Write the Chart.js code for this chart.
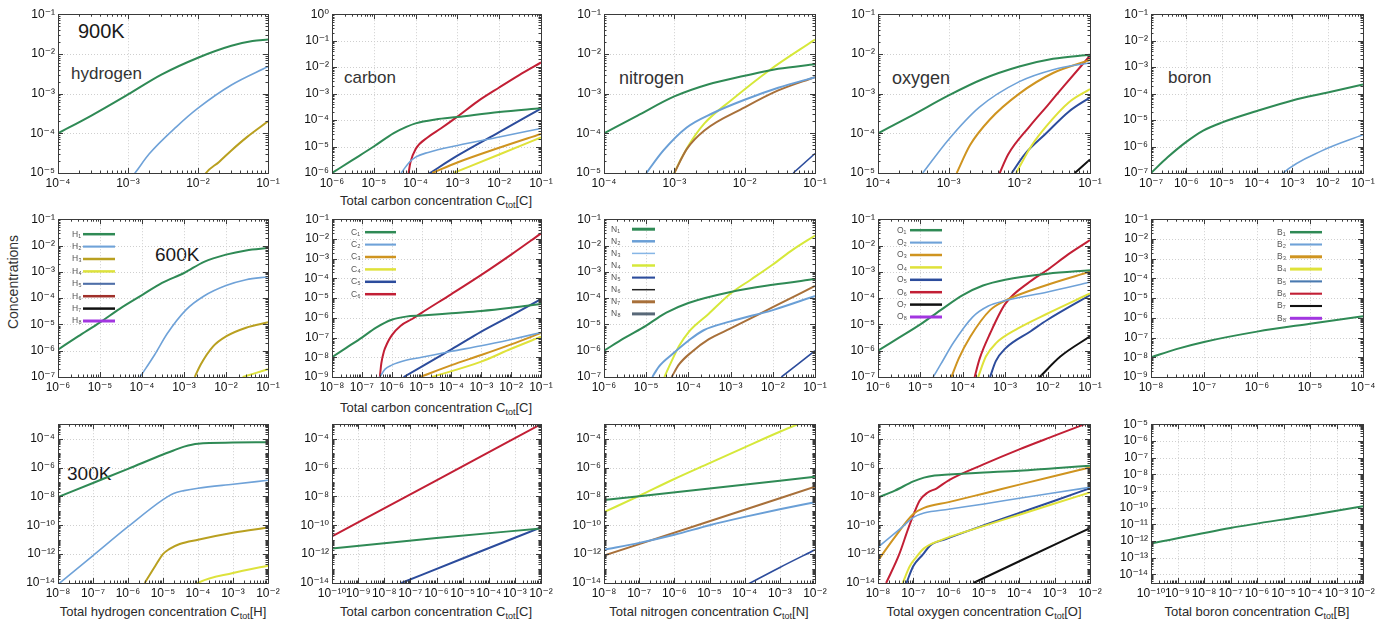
<!DOCTYPE html>
<html>
<head>
<meta charset="utf-8">
<script src="https://cdn.jsdelivr.net/npm/chart.js@4.4.0/dist/chart.umd.min.js"></script>
<style>
  body { margin: 0; background: #fff; width: 1391px; height: 626px; overflow: hidden; position: relative;
         font-family: "Liberation Sans", Arial, "DejaVu Sans", sans-serif; }
  canvas { position: absolute; }
  .lbl { position: absolute; white-space: nowrap; color: #1a1a1a; line-height: 1; }
  .axt { position: absolute; white-space: nowrap; color: #2a2a2a; font-size: 13px; line-height: 1;
         transform: translateX(-50%); }
  .axt sub { font-size: 9px; vertical-align: -3px; line-height: 0; }
</style>
</head>
<body>
<div class="lbl" style="left:78px;top:21px;font-size:20px">900K</div>
<div class="lbl" style="left:71px;top:65px;font-size:17px;color:#333">hydrogen</div>
<div class="lbl" style="left:344px;top:69px;font-size:17px;color:#333">carbon</div>
<div class="lbl" style="left:619px;top:69px;font-size:18px;color:#333">nitrogen</div>
<div class="lbl" style="left:892px;top:69px;font-size:18px;color:#333">oxygen</div>
<div class="lbl" style="left:1168px;top:69px;font-size:17px;color:#333">boron</div>
<div class="lbl" style="left:155px;top:245px;font-size:19px">600K</div>
<div class="lbl" style="left:67px;top:464px;font-size:19px">300K</div>
<div class="lbl" style="left:13px;top:282px;font-size:14px;color:#333;transform:translate(-50%,-50%) rotate(-90deg)">Concentrations</div>

<div class="axt" style="left:436px;top:194px">Total carbon concentration C<sub>tot</sub>[C]</div>
<div class="axt" style="left:436px;top:401px">Total carbon concentration C<sub>tot</sub>[C]</div>
<div class="axt" style="left:163px;top:605px">Total hydrogen concentration C<sub>tot</sub>[H]</div>
<div class="axt" style="left:436px;top:605px">Total carbon concentration C<sub>tot</sub>[C]</div>
<div class="axt" style="left:709px;top:605px">Total nitrogen concentration C<sub>tot</sub>[N]</div>
<div class="axt" style="left:984px;top:605px">Total oxygen concentration C<sub>tot</sub>[O]</div>
<div class="axt" style="left:1257px;top:605px">Total boron concentration C<sub>tot</sub>[B]</div>

<script>
// ---- species names (legend categories) ----
const hydrogenNames = ['H₁', 'H₂', 'H₃', 'H₄', 'H₅', 'H₆', 'H₇', 'H₈'];
const carbonNames   = ['C₁', 'C₂', 'C₃', 'C₄', 'C₅', 'C₆'];
const nitrogenNames = ['N₁', 'N₂', 'N₃', 'N₄', 'N₅', 'N₆', 'N₇', 'N₈'];
const oxygenNames   = ['O₁', 'O₂', 'O₃', 'O₄', 'O₅', 'O₆', 'O₇', 'O₈'];
const boronNames    = ['B₁', 'B₂', 'B₃', 'B₄', 'B₅', 'B₆', 'B₇', 'B₈'];

// ---- tick values (labels are 10^n) ----
const ticks4to1  = [1e-4, 1e-3, 1e-2, 1e-1];
const ticks5to1  = [1e-5, 1e-4, 1e-3, 1e-2, 1e-1];
const ticks6to0  = [1e-6, 1e-5, 1e-4, 1e-3, 1e-2, 1e-1, 1];
const ticks6to1  = [1e-6, 1e-5, 1e-4, 1e-3, 1e-2, 1e-1];
const ticks7to1  = [1e-7, 1e-6, 1e-5, 1e-4, 1e-3, 1e-2, 1e-1];
const ticks8to1  = [1e-8, 1e-7, 1e-6, 1e-5, 1e-4, 1e-3, 1e-2, 1e-1];
const ticks9to1  = [1e-9, 1e-8, 1e-7, 1e-6, 1e-5, 1e-4, 1e-3, 1e-2, 1e-1];
const ticks8to4  = [1e-8, 1e-7, 1e-6, 1e-5, 1e-4];
const ticks8to2  = [1e-8, 1e-7, 1e-6, 1e-5, 1e-4, 1e-3, 1e-2];
const ticks10to2 = [1e-10, 1e-9, 1e-8, 1e-7, 1e-6, 1e-5, 1e-4, 1e-3, 1e-2];
const ticks14to4even = [1e-14, 1e-12, 1e-10, 1e-8, 1e-6, 1e-4];
const ticks14to5 = [1e-14, 1e-13, 1e-12, 1e-11, 1e-10, 1e-9, 1e-8, 1e-7, 1e-6, 1e-5];

// ---- 900 K : [C_tot, concentration] ----
const H900_1 = [[1e-4,1e-4],[3e-4,2.8e-4],[1e-3,9.5e-4],[3e-3,3e-3],[1e-2,8e-3],[3e-2,1.6e-2],[6e-2,2.1e-2],[1e-1,2.3e-2]];
const H900_2 = [[1e-3,6e-6],[1.26e-3,1e-5],[2e-3,3e-5],[5e-3,1.5e-4],[1e-2,4.3e-4],[3e-2,1.65e-3],[1e-1,4.8e-3]];
const H900_3 = [[1.1e-2,6e-6],[1.3e-2,1e-5],[2e-2,1.9e-5],[3e-2,3.7e-5],[5e-2,8e-5],[1e-1,2e-4]];

const C900_1 = [[1e-6,1e-6],[3e-6,3e-6],[1e-5,1e-5],[3e-5,3.2e-5],[6e-5,5.5e-5],[1e-4,7.5e-5],[3e-4,1.05e-4],[1e-3,1.3e-4],[1e-2,2e-4],[1e-1,2.8e-4]];
const C900_2 = [[4.5e-5,1e-6],[7e-5,2.5e-6],[1e-4,4e-6],[2e-4,6e-6],[1e-3,1.1e-5],[1e-2,2.3e-5],[1e-1,4.8e-5]];
const C900_3 = [[2.5e-4,1e-6],[1e-3,2.5e-6],[1e-2,9e-6],[1e-1,3e-5]];
const C900_4 = [[8e-4,1e-6],[1e-2,5e-6],[1e-1,2.2e-5]];
const C900_5 = [[2e-4,9e-7],[1e-3,4.5e-6],[1e-2,3.5e-5],[1e-1,2.7e-4]];
const C900_6 = [[6.8e-5,1e-6],[7.5e-5,2.5e-6],[1e-4,8e-6],[2e-4,2.3e-5],[4e-4,4.8e-5],[1e-3,1.35e-4],[3e-3,5e-4],[1e-2,1.7e-3],[3e-2,5e-3],[1e-1,1.5e-2]];

const N900_1 = [[1e-4,1e-4],[3e-4,2.8e-4],[1e-3,8.5e-4],[3e-3,1.7e-3],[1e-2,2.8e-3],[3e-2,4.2e-3],[1e-1,5.5e-3]];
const N900_2 = [[4e-4,1e-5],[7e-4,3.7e-5],[1.5e-3,1.4e-4],[3.5e-3,3.2e-4],[1e-2,7e-4],[3e-2,1.4e-3],[1e-1,2.6e-3]];
const N900_4 = [[9e-4,6e-6],[1e-3,1e-5],[1.57e-3,4.7e-5],[2.7e-3,1.8e-4],[6.5e-3,6.9e-4],[2.3e-2,4e-3],[1e-1,2.3e-2]];
const N900_5 = [[4.9e-2,1e-5],[1e-1,3.1e-5]];
const N900_7 = [[1e-3,1e-5],[1.5e-3,4e-5],[2.7e-3,1.2e-4],[1e-2,4.5e-4],[3e-2,1.2e-3],[1e-1,2.6e-3]];

const O900_1 = [[1e-4,1e-4],[3e-4,2.8e-4],[1e-3,9e-4],[3e-3,2.3e-3],[1e-2,4.8e-3],[3e-2,7.5e-3],[1e-1,9.5e-3]];
const O900_2 = [[4.3e-4,1e-5],[1e-3,7e-5],[2.7e-3,4.5e-4],[1e-2,2e-3],[3e-2,4e-3],[1e-1,6e-3]];
const O900_3 = [[1.3e-3,1e-5],[2e-3,5e-5],[3.8e-3,2.2e-4],[1e-2,1e-3],[3e-2,3.3e-3],[1e-1,7e-3]];
const O900_4 = [[9e-3,1e-5],[1.5e-2,5e-5],[2.4e-2,1.5e-4],[5e-2,6e-4],[1e-1,1.3e-3]];
const O900_5 = [[7.8e-3,1e-5],[1.2e-2,3e-5],[2.4e-2,1e-4],[5e-2,3.5e-4],[1e-1,8e-4]];
const O900_6 = [[5e-3,8e-6],[7e-3,3e-5],[1.4e-2,1.5e-4],[2.5e-2,5e-4],[4.2e-2,1.5e-3],[1e-1,9e-3]];
const O900_7 = [[6.1e-2,1e-5],[1e-1,2.2e-5]];

const B900_1 = [[1e-7,1e-7],[3e-7,4e-7],[1e-6,1.5e-6],[3e-6,4e-6],[1e-5,8e-6],[1e-4,2.2e-5],[1e-3,5.5e-5],[1e-2,1.1e-4],[1e-1,2.2e-4]];
const B900_2 = [[4e-4,6e-8],[5.5e-4,1e-7],[7e-3,7e-7],[1e-1,2.8e-6]];

// ---- 600 K ----
const H600_1 = [[1e-6,1.1e-6],[3e-6,3.5e-6],[1e-5,1.2e-5],[3e-5,4e-5],[1e-4,1.3e-4],[3e-4,3.8e-4],[1e-3,9e-4],[3e-3,2.4e-3],[1e-2,4.5e-3],[3e-2,6.5e-3],[1e-1,8e-3]];
const H600_2 = [[9e-5,1e-7],[2e-4,7e-7],[4e-4,4.5e-6],[1.1e-3,3.5e-5],[3e-3,1.2e-4],[1e-2,3e-4],[3e-2,5e-4],[1e-1,6.5e-4]];
const H600_3 = [[1.8e-3,1e-7],[2.5e-3,3e-7],[5e-3,1.5e-6],[1e-2,3.5e-6],[3e-2,7.5e-6],[1e-1,1.2e-5]];
const H600_4 = [[2.5e-2,1e-7],[5e-2,1.4e-7],[1e-1,2e-7]];

const C600_1 = [[1e-8,1e-8],[3e-8,3e-8],[1e-7,1e-7],[3e-7,3.2e-7],[1e-6,8e-7],[3e-6,1.15e-6],[1e-5,1.3e-6],[1e-4,1.7e-6],[1e-3,2.2e-6],[1e-2,3.2e-6],[1e-1,5e-6]];
const C600_2 = [[4e-7,1e-9],[6e-7,2.5e-9],[1e-6,4e-9],[3e-6,7e-9],[1e-5,1e-8],[1e-4,2e-8],[1e-3,3.8e-8],[1e-2,8e-8],[1e-1,1.8e-7]];
const C600_3 = [[9e-6,1e-9],[1e-4,4e-9],[1e-3,1.3e-8],[1e-2,4.5e-8],[1e-1,1.7e-7]];
const C600_4 = [[2.2e-5,1e-9],[1e-3,6e-9],[1e-2,2.7e-8],[1e-1,1.1e-7]];
const C600_5 = [[2.5e-6,1e-9],[1e-4,2.5e-8],[1e-3,2e-7],[1e-2,1.3e-6],[1e-1,9e-6]];
const C600_6 = [[4e-7,1e-9],[4.5e-7,5e-9],[5.5e-7,2e-8],[7e-7,5e-8],[1e-6,1.3e-7],[2e-6,4e-7],[5e-6,9e-7],[1e-5,1.8e-6],[1e-4,1.6e-5],[1e-3,1.5e-4],[1e-2,1.6e-3],[1e-1,1.9e-2]];

const N600_1 = [[1e-6,1e-6],[3e-6,3e-6],[1e-5,9e-6],[2e-5,1.9e-5],[3e-5,2.8e-5],[1e-4,6.5e-5],[1e-3,1.7e-4],[1e-2,3.2e-4],[1e-1,5.3e-4]];
const N600_2 = [[1.4e-5,1e-7],[2e-5,2.5e-7],[4.4e-5,8e-7],[1e-4,2.4e-6],[2.3e-4,6e-6],[1e-3,1.3e-5],[1e-2,3.5e-5],[1e-1,1.2e-4]];
const N600_4 = [[2.7e-5,1e-7],[4e-5,4e-7],[6e-5,1.5e-6],[1e-4,5e-6],[3e-4,2.5e-5],[1e-3,1.5e-4],[3e-3,5e-4],[1e-2,1.9e-3],[3e-2,7e-3],[1e-1,2.4e-2]];
const N600_5 = [[1.6e-2,1e-7],[1e-1,1e-6]];
const N600_7 = [[4e-5,1e-7],[6e-5,3e-7],[1.2e-4,9e-7],[3e-4,2.7e-6],[1e-3,7e-6],[1e-2,4.5e-5],[1e-1,2.9e-4]];

const O600_1 = [[1e-6,1e-6],[3e-6,3e-6],[1e-5,1e-5],[3e-5,3.5e-5],[1e-4,1.3e-4],[3e-4,3e-4],[1e-3,5e-4],[1e-2,8.5e-4],[1e-1,1.15e-3]];
const O600_2 = [[2e-5,1e-7],[3e-5,3e-7],[6e-5,2e-6],[1.7e-4,1.9e-5],[4e-4,5e-5],[1e-3,8e-5],[1e-2,1.7e-4],[1e-1,4e-4]];
const O600_3 = [[5.4e-5,1e-7],[8e-5,5e-7],[1.5e-4,3.4e-6],[4.4e-4,3.5e-5],[1e-3,8e-5],[1e-2,3.2e-4],[1e-1,1e-3]];
const O600_4 = [[2.3e-4,1e-7],[3.5e-4,6e-7],[6e-4,1.9e-6],[2e-3,7e-6],[1e-2,2.6e-5],[1e-1,1.5e-4]];
const O600_5 = [[4.4e-4,1e-7],[6e-4,4e-7],[1e-3,1.2e-6],[4e-3,5.5e-6],[1e-2,1.5e-5],[1e-1,1.3e-4]];
const O600_6 = [[1.9e-4,1e-7],[2.5e-4,5e-7],[4.4e-4,4.5e-6],[1e-3,6e-5],[3.8e-3,4.2e-4],[1e-2,1.2e-3],[3e-2,4.5e-3],[1e-1,1.6e-2]];
const O600_7 = [[6.5e-3,1e-7],[2e-2,6e-7],[1e-1,3.5e-6]];

const B600_1 = [[1e-8,1e-8],[3e-8,2.6e-8],[1e-7,6e-8],[1e-6,2e-7],[1e-5,5e-7],[1e-4,1.2e-6]];

// ---- 300 K ----
const H300_1 = [[1e-8,9e-9],[1e-7,8.5e-8],[1e-6,8e-7],[1e-5,8e-6],[2e-5,1.5e-5],[4e-5,2.8e-5],[1e-4,4.5e-5],[1e-3,5.3e-5],[1e-2,5.7e-5]];
const H300_2 = [[1e-8,8e-15],[1e-7,8e-13],[1e-6,8e-11],[1e-5,6e-9],[2e-5,1.6e-8],[4e-5,2.5e-8],[1e-4,3.7e-8],[1e-3,7e-8],[1e-2,1.3e-7]];
const H300_3 = [[3e-6,1e-14],[6e-6,1.5e-13],[1e-5,1e-12],[1.5e-5,2.2e-12],[3e-5,5e-12],[1e-4,1e-11],[1e-3,3e-11],[1e-2,7e-11]];
const H300_4 = [[7e-5,5e-15],[1e-4,1e-14],[1e-3,5e-14],[1e-2,1.6e-13]];

const C300_1 = [[1e-10,2.5e-12],[1e-6,1.3e-11],[1e-2,6e-11]];
const C300_5 = [[4.5e-8,1e-14],[1e-5,5e-13],[1e-2,7e-11]];
const C300_6 = [[1e-10,1.7e-11],[1e-6,1.3e-7],[1e-2,1e-3]];

const N300_1 = [[1e-8,5.6e-9],[1e-5,3.5e-8],[1e-2,2.3e-7]];
const N300_2 = [[1e-8,2e-12],[1e-7,6e-12],[1e-6,2.2e-11],[1e-5,1e-10],[1e-4,3.8e-10],[1e-3,1.3e-9],[1e-2,4e-9]];
const N300_4 = [[1e-8,8e-10],[1e-7,1.1e-8],[1e-6,1.6e-7],[1e-5,2e-6],[1e-4,2.5e-5],[1e-3,3e-4],[1e-2,3e-3]];
const N300_5 = [[1.2e-4,8e-15],[1e-3,1.2e-13],[1e-2,2e-12]];
const N300_7 = [[1e-8,8e-13],[1e-5,1.9e-10],[1e-2,4.7e-8]];

const O300_1 = [[1e-8,8.5e-9],[3e-8,2.5e-8],[1e-7,1.1e-7],[2e-7,2e-7],[4e-7,2.8e-7],[1e-6,3.3e-7],[1e-5,4.5e-7],[1e-4,6e-7],[1e-3,9e-7],[1e-2,1.3e-6]];
const O300_2 = [[1e-8,3e-12],[5e-8,8e-11],[1e-7,3.5e-10],[2e-7,7e-10],[1e-6,1.3e-9],[1e-5,3e-9],[1e-4,7.5e-9],[1e-3,1.8e-8],[1e-2,4.2e-8]];
const O300_3 = [[1e-8,3.6e-13],[3e-8,1.5e-11],[1e-7,6e-10],[2e-7,1.6e-9],[1e-6,4e-9],[1e-5,1.6e-8],[1e-4,6.5e-8],[1e-3,2.6e-7],[1e-2,1e-6]];
const O300_4 = [[5e-8,1e-14],[8e-8,1.5e-13],[1.2e-7,6e-13],[2e-7,2.5e-12],[5.6e-7,8.7e-12],[1e-5,9e-11],[1e-4,5.4e-10],[1e-3,3.2e-9],[1e-2,1.9e-8]];
const O300_5 = [[6.4e-8,1e-14],[1e-7,1.5e-13],[1.9e-7,1e-12],[3e-7,4e-12],[8.3e-7,1.1e-11],[1e-5,1e-10],[1e-4,7e-10],[1e-3,5e-9],[1e-2,3.7e-8]];
const O300_6 = [[1.7e-8,1e-14],[4e-8,1e-12],[7e-8,5e-11],[1e-7,5e-10],[1.5e-7,5e-9],[2.5e-7,1.8e-8],[4.5e-7,3.5e-8],[1e-6,1.3e-7],[1e-5,1.7e-6],[1e-4,1.8e-5],[1e-3,1.6e-4],[1e-2,1.4e-3]];
const O300_7 = [[5e-6,1e-14],[1e-4,3.2e-13],[1e-2,6.3e-11]];

const B300_1 = [[1e-10,7e-13],[1e-7,6e-12],[1e-4,3.5e-11],[1e-2,1.2e-10]];

// ---- styles ----
const elements = {
  H: { names: hydrogenNames,
       colors: ['#2f8a55', '#6fa2d8', '#b9a020', '#dde23c', '#4f6fa8', '#a0302a', '#111111', '#a236e0'],
       widths: [2, 1.6, 2, 2, 1.6, 2, 2, 2.5] },
  C: { names: carbonNames,
       colors: ['#2f8a55', '#6fa2d8', '#cf9420', '#dfe23a', '#2c4c9c', '#c21f35'],
       widths: [2, 1.6, 2, 2, 2, 2] },
  N: { names: nitrogenNames,
       colors: ['#2f8a55', '#6a9fd6', '#86b6e6', '#d6e83a', '#2c4c9c', '#222222', '#a8703a', '#586878'],
       widths: [2.5, 2, 1, 2, 1.6, 1, 2.5, 2.5] },
  O: { names: oxygenNames,
       colors: ['#2f8a55', '#6fa2d8', '#cf9420', '#dfe23a', '#2c4c9c', '#c21f35', '#111111', '#a236e0'],
       widths: [2, 1.6, 2, 2, 2, 2, 2, 2.5] },
  B: { names: boronNames,
       colors: ['#2f8a55', '#6fa2d8', '#cf9420', '#dfe23a', '#4a7ab0', '#c21f35', '#111111', '#a236e0'],
       widths: [2, 1.6, 2.5, 2.5, 1.6, 1.6, 1.6, 2.5] }
};

const colLeft = [58, 332, 604, 878, 1151];
const colRight = [268, 541, 815, 1090, 1363];
const rowTop = [14, 219, 424];
const rowBottom = [173, 377, 583];
const PAD_L = 52, PAD_T = 10, PAD_R = 20, PAD_B = 22;

const panels = [
  { row: 0, col: 0, el: 'H', x: [1e-4, 1e-1], y: [1e-5, 1e-1], xt: ticks4to1, yt: ticks5to1,
    series: [[0, H900_1], [1, H900_2], [2, H900_3]] },
  { row: 0, col: 1, el: 'C', x: [1e-6, 1e-1], y: [1e-6, 1], xt: ticks6to1, yt: ticks6to0,
    series: [[0, C900_1], [1, C900_2], [2, C900_3], [3, C900_4], [4, C900_5], [5, C900_6]] },
  { row: 0, col: 2, el: 'N', x: [1e-4, 1e-1], y: [1e-5, 1e-1], xt: ticks4to1, yt: ticks5to1,
    series: [[0, N900_1], [1, N900_2], [6, N900_7], [3, N900_4], [4, N900_5]] },
  { row: 0, col: 3, el: 'O', x: [1e-4, 1e-1], y: [1e-5, 1e-1], xt: ticks4to1, yt: ticks5to1,
    series: [[0, O900_1], [1, O900_2], [2, O900_3], [3, O900_4], [4, O900_5], [5, O900_6], [6, O900_7]] },
  { row: 0, col: 4, el: 'B', x: [1e-7, 1e-1], y: [1e-7, 1e-1], xt: ticks7to1, yt: ticks7to1,
    series: [[0, B900_1], [1, B900_2]] },

  { row: 1, col: 0, el: 'H', x: [1e-6, 1e-1], y: [1e-7, 1e-1], xt: ticks6to1, yt: ticks7to1,
    series: [[0, H600_1], [1, H600_2], [2, H600_3], [3, H600_4]],
    legend: { tx: 14, lx1: 25, lx2: 57, ty: 15, step: 12.4 } },
  { row: 1, col: 1, el: 'C', x: [1e-8, 1e-1], y: [1e-9, 1e-1], xt: ticks8to1, yt: ticks9to1,
    series: [[0, C600_1], [1, C600_2], [2, C600_3], [3, C600_4], [4, C600_5], [5, C600_6]],
    legend: { tx: 19, lx1: 33, lx2: 64, ty: 13, step: 12.4 } },
  { row: 1, col: 2, el: 'N', x: [1e-6, 1e-1], y: [1e-7, 1e-1], xt: ticks6to1, yt: ticks7to1,
    series: [[0, N600_1], [1, N600_2], [6, N600_7], [3, N600_4], [4, N600_5]],
    legend: { tx: 7, lx1: 28, lx2: 51, ty: 10, step: 12.1 } },
  { row: 1, col: 3, el: 'O', x: [1e-6, 1e-1], y: [1e-7, 1e-1], xt: ticks6to1, yt: ticks7to1,
    series: [[0, O600_1], [1, O600_2], [2, O600_3], [3, O600_4], [4, O600_5], [5, O600_6], [6, O600_7]],
    legend: { tx: 19, lx1: 32, lx2: 64, ty: 11, step: 12.4 } },
  { row: 1, col: 4, el: 'B', x: [1e-8, 1e-4], y: [1e-9, 1e-1], xt: ticks8to4, yt: ticks9to1,
    series: [[0, B600_1]],
    legend: { tx: 126, lx1: 139, lx2: 171, ty: 13, step: 12.3 } },

  { row: 2, col: 0, el: 'H', x: [1e-8, 1e-2], y: [1e-14, 1e-3], xt: ticks8to2, yt: ticks14to4even,
    series: [[0, H300_1], [1, H300_2], [2, H300_3], [3, H300_4]] },
  { row: 2, col: 1, el: 'C', x: [1e-10, 1e-2], y: [1e-14, 1e-3], xt: ticks10to2, yt: ticks14to4even,
    series: [[0, C300_1], [4, C300_5], [5, C300_6]] },
  { row: 2, col: 2, el: 'N', x: [1e-8, 1e-2], y: [1e-14, 1e-3], xt: ticks8to2, yt: ticks14to4even,
    series: [[0, N300_1], [1, N300_2], [6, N300_7], [3, N300_4], [4, N300_5]] },
  { row: 2, col: 3, el: 'O', x: [1e-8, 1e-2], y: [1e-14, 1e-3], xt: ticks8to2, yt: ticks14to4even,
    series: [[0, O300_1], [1, O300_2], [2, O300_3], [3, O300_4], [4, O300_5], [6, O300_7], [5, O300_6]] },
  { row: 2, col: 4, el: 'B', x: [1e-10, 1e-2], y: [3.2e-15, 1e-5], xt: ticks10to2, yt: ticks14to5,
    series: [[0, B300_1]] }
];

const SUP = { '-': '⁻', '0': '⁰', '1': '¹', '2': '²', '3': '³', '4': '⁴', '5': '⁵', '6': '⁶', '7': '⁷', '8': '⁸', '9': '⁹' };
function expLabel(v) {
  const e = Math.round(Math.log10(v));
  return '10' + String(e).split('').map(c => SUP[c]).join('');
}

function minorValues(min, max, majors) {
  const out = [];
  for (let e = Math.floor(Math.log10(min)); e <= Math.ceil(Math.log10(max)); e++) {
    for (let m = 1; m <= 9; m++) {
      const v = m * Math.pow(10, e);
      if (v <= min * 1.0001 || v >= max * 0.9999) continue;
      if (majors.some(t => Math.abs(t - v) / v < 1e-6)) continue;
      out.push(v);
    }
  }
  return out;
}

// grid, frame with inward ticks, and the little legend inside the plot
const gnuFrame = {
  id: 'gnuFrame',
  beforeDatasetsDraw(chart) {
    const { ctx, chartArea: a, scales: { x, y } } = chart;
    ctx.save();
    ctx.strokeStyle = '#cfcfcf';
    ctx.lineWidth = 1;
    ctx.setLineDash([1, 2]);
    x.ticks.forEach(t => {
      const px = Math.round(x.getPixelForValue(t.value)) + 0.5;
      if (px > a.left + 2 && px < a.right - 2) {
        ctx.beginPath(); ctx.moveTo(px, a.top); ctx.lineTo(px, a.bottom); ctx.stroke();
      }
    });
    y.ticks.forEach(t => {
      const py = Math.round(y.getPixelForValue(t.value)) + 0.5;
      if (py > a.top + 2 && py < a.bottom - 2) {
        ctx.beginPath(); ctx.moveTo(a.left, py); ctx.lineTo(a.right, py); ctx.stroke();
      }
    });
    ctx.restore();
  },
  afterDatasetsDraw(chart, args, opts) {
    const { ctx, chartArea: a, scales: { x, y } } = chart;
    ctx.save();
    ctx.strokeStyle = '#3a3a3a';
    ctx.lineWidth = 1;
    ctx.strokeRect(Math.round(a.left) + 0.5, Math.round(a.top) + 0.5,
                   Math.round(a.right - a.left), Math.round(a.bottom - a.top));
    const xMaj = x.ticks.map(t => t.value), yMaj = y.ticks.map(t => t.value);
    const drawX = (vals, len) => vals.forEach(v => {
      const px = Math.round(x.getPixelForValue(v)) + 0.5;
      ctx.beginPath();
      ctx.moveTo(px, a.bottom); ctx.lineTo(px, a.bottom - len);
      ctx.moveTo(px, a.top); ctx.lineTo(px, a.top + len);
      ctx.stroke();
    });
    const drawY = (vals, len) => vals.forEach(v => {
      const py = Math.round(y.getPixelForValue(v)) + 0.5;
      ctx.beginPath();
      ctx.moveTo(a.left, py); ctx.lineTo(a.left + len, py);
      ctx.moveTo(a.right, py); ctx.lineTo(a.right - len, py);
      ctx.stroke();
    });
    drawX(xMaj, 5); drawY(yMaj, 5);
    drawX(minorValues(x.min, x.max, xMaj), 2.5);
    drawY(minorValues(y.min, y.max, yMaj), 2.5);

    const lg = opts && opts.legend;
    if (lg) {
      const el = elements[opts.el];
      ctx.font = '8.5px "Liberation Sans", "DejaVu Sans", sans-serif';
      ctx.textBaseline = 'middle';
      ctx.textAlign = 'left';
      el.names.forEach((name, i) => {
        const yy = a.top + lg.ty + i * lg.step;
        ctx.fillStyle = '#555';
        ctx.fillText(name, a.left + lg.tx, yy);
        ctx.strokeStyle = el.colors[i];
        ctx.lineWidth = el.widths[i] + 0.5;
        ctx.beginPath(); ctx.moveTo(a.left + lg.lx1, yy); ctx.lineTo(a.left + lg.lx2, yy); ctx.stroke();
      });
    }
    ctx.restore();
  }
};

function logAxis(range, ticks, isX) {
  return {
    type: 'logarithmic',
    min: range[0],
    max: range[1],
    afterBuildTicks: s => { s.ticks = ticks.map(v => ({ value: v })); },
    afterFit: s => { if (isX) s.height = PAD_B; else s.width = PAD_L; },
    grid: { display: false, drawTicks: false },
    border: { display: false },
    ticks: {
      callback: v => expLabel(v),
      autoSkip: false, maxRotation: 0, minRotation: 0,
      padding: isX ? 3 : 3, color: '#111',
      font: { family: '"Liberation Sans", "DejaVu Sans", sans-serif', size: 12 }
    }
  };
}

panels.forEach(p => {
  const w = colRight[p.col] - colLeft[p.col];
  const h = rowBottom[p.row] - rowTop[p.row];
  const cv = document.createElement('canvas');
  cv.width = w + PAD_L + PAD_R;
  cv.height = h + PAD_T + PAD_B;
  cv.style.left = (colLeft[p.col] - PAD_L) + 'px';
  cv.style.top = (rowTop[p.row] - PAD_T) + 'px';
  document.body.appendChild(cv);
  const el = elements[p.el];
  const datasets = p.series.map(([k, pts]) => ({
    label: el.names[k],
    data: pts.map(([x, y]) => ({ x, y })),
    borderColor: el.colors[k],
    borderWidth: Math.max(1.6, Math.min(el.widths[k], 2)),
    pointRadius: 0,
    fill: false,
    cubicInterpolationMode: 'monotone'
  }));
  new Chart(cv, {
    type: 'line',
    data: { datasets },
    options: {
      responsive: false,
      animation: false,
      events: [],
      layout: { padding: { left: 0, top: PAD_T, right: PAD_R, bottom: 0 } },
      scales: { x: logAxis(p.x, p.xt, true), y: logAxis(p.y, p.yt, false) },
      plugins: {
        legend: { display: false },
        tooltip: { enabled: false },
        gnuFrame: { legend: p.legend, el: p.el }
      }
    },
    plugins: [gnuFrame]
  });
});
</script>
</body>
</html>
